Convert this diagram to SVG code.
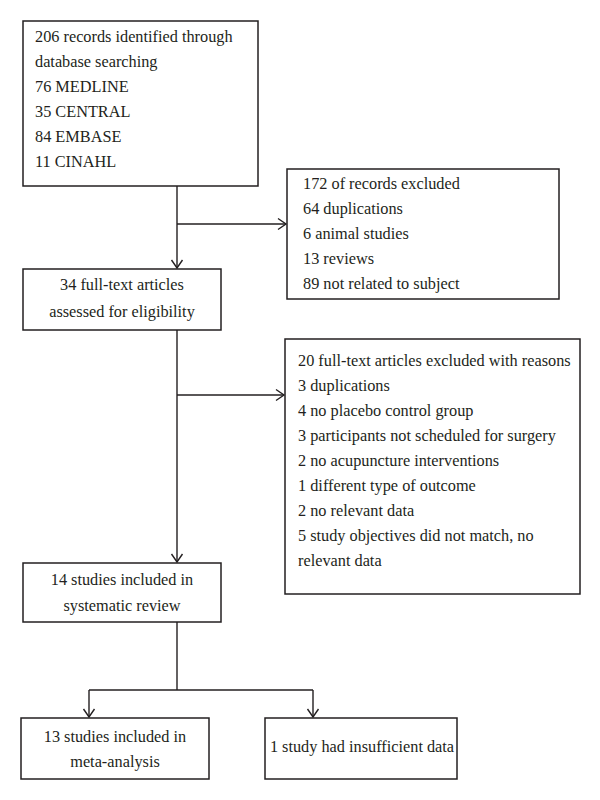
<svg xmlns="http://www.w3.org/2000/svg" width="600" height="800" viewBox="0 0 600 800">
<defs>
<style>
.box{fill:#fff;stroke:#231f20;stroke-width:1.5}
.t{font-family:"Liberation Serif","Times New Roman",serif;font-size:16.3px;fill:#231f20}
.c{text-anchor:middle}
.ln{fill:none;stroke:#231f20;stroke-width:1.4}
</style>
<marker id="ah" markerUnits="userSpaceOnUse" markerWidth="12" markerHeight="14" refX="9" refY="6" orient="auto" viewBox="0 0 12 12">
<path d="M1,0.5 L9,6 L1,11.5" fill="none" stroke="#231f20" stroke-width="1.4"/>
</marker>
</defs>
<rect width="600" height="800" fill="#fff"/>
<g id="connectors">
<path class="ln" d="M177,186 V268" marker-end="url(#ah)"/>
<path class="ln" d="M177,224 H286" marker-end="url(#ah)"/>
<path class="ln" d="M177,330 V562" marker-end="url(#ah)"/>
<path class="ln" d="M177,395 H284" marker-end="url(#ah)"/>
<path class="ln" d="M177,622 V690"/>
<path class="ln" d="M89,690 H313"/>
<path class="ln" d="M89,690 V717" marker-end="url(#ah)"/>
<path class="ln" d="M313,690 V717" marker-end="url(#ah)"/>
</g>
<g id="identified">
<rect class="box" x="23" y="21" width="235" height="165"/>
<text class="t" x="35" y="42">206 records identified through</text>
<text class="t" x="35" y="67">database searching</text>
<text class="t" x="35" y="92">76 MEDLINE</text>
<text class="t" x="35" y="117">35 CENTRAL</text>
<text class="t" x="35" y="142">84 EMBASE</text>
<text class="t" x="35" y="167">11 CINAHL</text>
</g>
<g id="excluded1">
<rect class="box" x="287" y="169" width="272" height="130"/>
<text class="t" x="303" y="189">172 of records excluded</text>
<text class="t" x="303" y="214">64 duplications</text>
<text class="t" x="303" y="239">6 animal studies</text>
<text class="t" x="303" y="264">13 reviews</text>
<text class="t" x="303" y="289">89 not related to subject</text>
</g>
<g id="fulltext">
<rect class="box" x="23" y="269" width="198" height="61"/>
<text class="t c" x="122" y="290">34 full-text articles</text>
<text class="t c" x="122" y="317">assessed for eligibility</text>
</g>
<g id="excluded2">
<rect class="box" x="285" y="339" width="295" height="255"/>
<text class="t" x="298" y="366">20 full-text articles excluded with reasons</text>
<text class="t" x="298" y="391">3 duplications</text>
<text class="t" x="298" y="416">4 no placebo control group</text>
<text class="t" x="298" y="441">3 participants not scheduled for surgery</text>
<text class="t" x="298" y="466">2 no acupuncture interventions</text>
<text class="t" x="298" y="491">1 different type of outcome</text>
<text class="t" x="298" y="516">2 no relevant data</text>
<text class="t" x="298" y="541">5 study objectives did not match, no</text>
<text class="t" x="298" y="566">relevant data</text>
</g>
<g id="review">
<rect class="box" x="23" y="563" width="198" height="59"/>
<text class="t c" x="122" y="585">14 studies included in</text>
<text class="t c" x="122" y="611">systematic review</text>
</g>
<g id="meta">
<rect class="box" x="21" y="718" width="188" height="61"/>
<text class="t c" x="115" y="742">13 studies included in</text>
<text class="t c" x="115" y="767">meta-analysis</text>
</g>
<g id="insufficient">
<rect class="box" x="265" y="718" width="192" height="61"/>
<text class="t c" x="362" y="752">1 study had insufficient data</text>
</g>
</svg>
